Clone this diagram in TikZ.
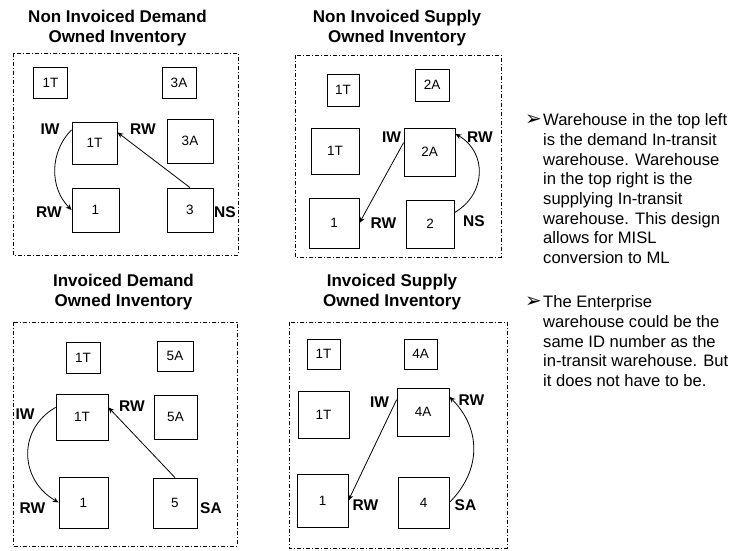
\documentclass[tikz,border=0pt]{standalone}
\usepackage{fontspec}
\setmainfont{Liberation Sans}
\newfontfamily\symfont{DejaVu Sans}
\usetikzlibrary{arrows.meta}
\tikzstyle{smallbox}=[draw, line width=0.8pt, minimum width=34pt, minimum height=31pt, inner sep=0, font=\fontsize{13.5}{15}\selectfont]
\tikzstyle{bigbox}=[draw, line width=0.8pt, minimum width=48pt, minimum height=46pt, inner sep=0, font=\fontsize{13.5}{15}\selectfont]
\tikzstyle{tag}=[inner sep=0, font=\bfseries\fontsize{15.5}{17}\selectfont]
\tikzstyle{heading}=[anchor=north, inner sep=0, align=center, font=\bfseries\fontsize{17}{20}\selectfont]
\tikzstyle{note}=[anchor=north west, inner sep=0, align=left, font=\fontsize{16.6}{19.7}\selectfont]
\tikzstyle{pointer}=[anchor=base west, inner sep=0, font=\symfont\fontsize{20}{22}\selectfont]
\tikzstyle{frame}=[line width=0.8pt, dash pattern=on 4pt off 2pt on 1pt off 2pt]
\tikzstyle{flow}=[-{Stealth[length=6pt,width=5pt]}, line width=0.8pt]

\begin{document}
\begin{tikzpicture}[x=1pt,y=1pt]
\useasboundingbox (0,0) rectangle (743,-550);
% non invoiced demand
\draw (117.5,-9.5) node[heading](aHead) {Non Invoiced Demand\\Owned Inventory};
\draw[frame] (13,-53) rectangle (238,-255);
\draw (50.5,-83) node[smallbox](a1Ts) {1T};
\draw (179,-83) node[smallbox](a3As) {3A};
\draw (94.5,-143) node[bigbox, minimum width=45pt, minimum height=42pt](a1T) {1T};
\draw (190,-141) node[bigbox, minimum width=46pt, minimum height=44pt](a3A) {3A};
\draw (95.5,-210) node[bigbox, minimum width=47pt, minimum height=44pt](a1) {1};
\draw (190,-210) node[bigbox, minimum width=46pt, minimum height=44pt](a3) {3};
\draw (50,-129) node[tag](aIW) {IW};
\draw (143,-129) node[tag](aRW) {RW};
\draw (49,-212.5) node[tag](aRWb) {RW};
\draw (225,-212.5) node[tag](aNS) {NS};
\draw[flow] (a1T.150) to[out=225,in=135] (a1.west);
\draw[flow] (a3.north) -- (a1T.25);
% non invoiced supply
\draw (397,-9.5) node[heading](bHead) {Non Invoiced Supply\\Owned Inventory};
\draw[frame] (295,-55) rectangle (501,-257);
\draw (343,-90) node[smallbox, minimum width=32pt, minimum height=32pt](b1Ts) {1T};
\draw (432,-85) node[smallbox, minimum height=32pt](b2As) {2A};
\draw (335,-151) node[bigbox](b1T) {1T};
\draw (429.5,-152) node[bigbox, minimum width=51pt, minimum height=48pt](b2A) {2A};
\draw (334,-223) node[bigbox, minimum width=50pt, minimum height=50pt](b1) {1};
\draw (430,-224) node[bigbox, minimum height=48pt](b2) {2};
\draw (391.5,-137.5) node[tag](bIW) {IW};
\draw (480,-137.5) node[tag](bRW) {RW};
\draw (383.5,-223.5) node[tag](bRWb) {RW};
\draw (474,-221.5) node[tag](bNS) {NS};
\draw[flow] (b2A.160) -- (b1.east);
\draw[flow] (b2.25) to[out=30,in=330,looseness=1.2] (b2A.35);
% invoiced demand
\draw (123.5,-274) node[heading](cHead) {Invoiced Demand\\Owned Inventory};
\draw[frame] (13,-322) rectangle (237,-546);
\draw (83,-357.5) node[smallbox](c1Ts) {1T};
\draw (175,-356) node[smallbox, minimum width=36pt, minimum height=30pt](c5As) {5A};
\draw (82,-417) node[bigbox, minimum width=52pt](c1T) {1T};
\draw (175.5,-417) node[bigbox, minimum width=43pt, minimum height=44pt](c5A) {5A};
\draw (83.5,-502.5) node[bigbox, minimum width=49pt, minimum height=51pt](c1) {1};
\draw (175,-503) node[bigbox, minimum width=44pt, minimum height=50pt](c5) {5};
\draw (25,-414.5) node[tag](cIW) {IW};
\draw (132,-406) node[tag](cRW) {RW};
\draw (32.5,-508.5) node[tag](cRWb) {RW};
\draw (211,-508.5) node[tag](cSA) {SA};
\draw[flow] (c1T.160) to[out=210,in=150,looseness=1.2] (c1.west);
\draw[flow] (c5.north) -- (c1T.20);
% invoiced supply
\draw (392,-274) node[heading](dHead) {Invoiced Supply\\Owned Inventory};
\draw[frame] (289,-322) rectangle (507,-548);
\draw (323.5,-354) node[smallbox, minimum width=33pt, minimum height=30pt](d1Ts) {1T};
\draw (420.5,-354) node[smallbox, minimum width=33pt, minimum height=30pt](d4As) {4A};
\draw (323.5,-414.5) node[bigbox, minimum width=51pt, minimum height=47pt](d1T) {1T};
\draw (423,-412) node[bigbox, minimum width=52pt, minimum height=48pt](d4A) {4A};
\draw (322.5,-500.5) node[bigbox, minimum width=51pt, minimum height=53pt](d1) {1};
\draw (423.5,-502.5) node[bigbox, minimum width=51pt, minimum height=51pt](d4) {4};
\draw (379.5,-402) node[tag](dIW) {IW};
\draw (471.5,-400) node[tag](dRW) {RW};
\draw (365.5,-505) node[tag](dRWb) {RW};
\draw (465.5,-505) node[tag](dSA) {SA};
\draw[flow] (d4A.155) -- (d1.east);
\draw[flow] (d4.east) to[out=45,in=315,looseness=1.1] (d4A.30);
% notes
\draw (525,-125) node[pointer](m1) {➢};
\draw (543,-113.5) node[note](n1) {Warehouse in the top left\\is the demand In-transit\\warehouse.  Warehouse\\in the top right is the\\supplying In-transit\\warehouse. This design\\allows for MISL\\conversion to ML};
\draw (525,-307) node[pointer](m2) {➢};
\draw (543,-295.5) node[note](n2) {The Enterprise\\warehouse could be the\\same ID  number as the\\in-transit warehouse.  But\\it does not have to be.};
\end{tikzpicture}
\end{document}
